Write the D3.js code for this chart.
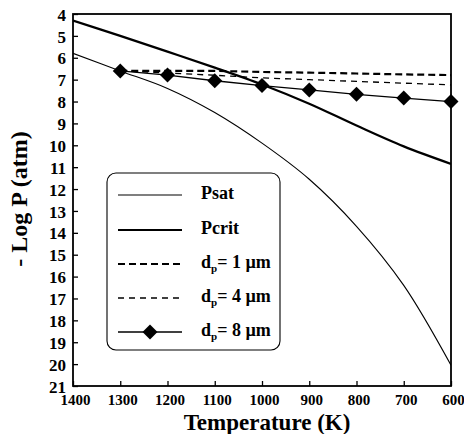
<!DOCTYPE html>
<html>
<head>
<meta charset="utf-8">
<script src="https://cdn.jsdelivr.net/npm/d3@7"></script>
<style>
  html, body { margin: 0; padding: 0; background: #fff; }
  svg { display: block; }
</style>
</head>
<body>
<svg id="chart" width="464" height="434"></svg>
<script>
// Temperature grid (K)
const temps = [1400, 1300, 1200, 1100, 1000, 900, 800, 700, 600];
// -log P (atm) for saturation and critical pressure
const psat  = [5.8, 6.6, 7.4, 8.5, 9.9, 11.55, 13.7, 16.4, 20.05];
const pcrit = [4.3, 5.0, 5.72, 6.45, 7.22, 8.1, 9.1, 10.05, 10.85];
// particle-size series start at 1300 K
const dpTemps = [1300, 1200, 1100, 1000, 900, 800, 700, 600];
const dp1 = [6.6, 6.6, 6.6, 6.65, 6.68, 6.72, 6.76, 6.79];
const dp4 = [6.6, 6.7, 6.8, 6.92, 7.0, 7.08, 7.16, 7.24];
const dp8 = [6.6, 6.79, 7.05, 7.27, 7.47, 7.67, 7.84, 8.0];
// axis ticks
const xTicks = [1400, 1300, 1200, 1100, 1000, 900, 800, 700, 600];
const yTicks = [4, 5, 6, 7, 8, 9, 10, 11, 12, 13, 14, 15, 16, 17, 18, 19, 20, 21];
const legendLabels = ["Psat", "Pcrit", "1", "4", "8"];

const FONT = "'Liberation Serif', 'Times New Roman', Times, 'DejaVu Serif', serif";

const svg = d3.select("#chart");
const L = 73, R = 451, T = 14, B = 386;

const x = d3.scaleLinear().domain([1400, 600]).range([L, R]);
const y = d3.scaleLinear().domain([4, 21]).range([T, B]);

// clip to plot area
svg.append("defs").append("clipPath").attr("id", "plotclip")
  .append("rect").attr("x", L).attr("y", T).attr("width", R - L).attr("height", B - T);

// axes with inward ticks
const yAxis = svg.append("g").attr("transform", `translate(${L},0)`)
  .call(d3.axisLeft(y).tickValues(yTicks).tickSize(-5).tickPadding(7).tickFormat(d3.format("d")));
yAxis.select(".domain").remove();
yAxis.attr("font-family", null).attr("font-size", null);
yAxis.selectAll("line").attr("stroke", "#000").attr("stroke-width", 1.3);
yAxis.selectAll("text").style("font-family", FONT).style("font-weight", "bold")
  .style("font-size", "17px").attr("fill", "#000").attr("dy", "0.36em");

const xAxis = svg.append("g").attr("transform", `translate(0,${B})`)
  .call(d3.axisBottom(x).tickValues(xTicks).tickSize(-5).tickPadding(8).tickFormat(d3.format("d")));
xAxis.select(".domain").remove();
xAxis.attr("font-family", null).attr("font-size", null);
xAxis.selectAll("line").attr("stroke", "#000").attr("stroke-width", 1.3);
xAxis.selectAll("text").style("font-family", FONT).style("font-weight", "bold")
  .style("font-size", "15px").attr("fill", "#000").attr("dx", "2");

// frame
svg.append("rect").attr("x", L).attr("y", T).attr("width", R - L).attr("height", B - T)
  .attr("fill", "none").attr("stroke", "#000").attr("stroke-width", 1.8);

const plot = svg.append("g").attr("clip-path", "url(#plotclip)");

const smooth = d3.line().x(d => x(d[0])).y(d => y(d[1])).curve(d3.curveCatmullRom.alpha(0.5));
const straight = d3.line().x(d => x(d[0])).y(d => y(d[1]));

plot.append("path").attr("d", smooth(d3.zip(temps, psat)))
  .attr("fill", "none").attr("stroke", "#000").attr("stroke-width", 1.1);
plot.append("path").attr("d", smooth(d3.zip(temps, pcrit)))
  .attr("fill", "none").attr("stroke", "#000").attr("stroke-width", 2.2);
plot.append("path").attr("d", straight(d3.zip(dpTemps, dp1)))
  .attr("fill", "none").attr("stroke", "#000").attr("stroke-width", 2.2).attr("stroke-dasharray", "7,4");
plot.append("path").attr("d", straight(d3.zip(dpTemps, dp4)))
  .attr("fill", "none").attr("stroke", "#000").attr("stroke-width", 1.3).attr("stroke-dasharray", "6,5");
plot.append("path").attr("d", straight(d3.zip(dpTemps, dp8)))
  .attr("fill", "none").attr("stroke", "#000").attr("stroke-width", 1.3);

const diamond = d3.symbol().type(d3.symbolSquare).size(112);
svg.append("g").selectAll("path").data(d3.zip(dpTemps, dp8)).join("path")
  .attr("d", diamond)
  .attr("transform", d => `translate(${x(d[0])},${y(d[1])}) rotate(45)`)
  .attr("fill", "#000");

function label(sel, size) {
  return sel.style("font-family", FONT).style("font-weight", "bold")
    .style("font-size", size).attr("fill", "#000");
}

// axis titles
label(svg.append("text"), "23px").attr("x", 267).attr("y", 430).attr("text-anchor", "middle")
  .text("Temperature (K)");
label(svg.append("text"), "24px").attr("transform", "translate(27,199) rotate(-90)")
  .attr("text-anchor", "middle").text("- Log P (atm)");

// legend
const lg = svg.append("g");
lg.append("rect").attr("x", 107).attr("y", 173).attr("width", 173).attr("height", 177)
  .attr("rx", 9).attr("fill", "#fff").attr("stroke", "#000").attr("stroke-width", 1.1);
const rowY = [195, 230, 264, 298, 332];
const styles = [
  { w: 1.1, dash: null },
  { w: 2.2, dash: null },
  { w: 2.2, dash: "7,4" },
  { w: 1.3, dash: "6,5" },
  { w: 1.3, dash: null }
];
rowY.forEach((ry, i) => {
  lg.append("line").attr("x1", 118).attr("x2", 182).attr("y1", ry).attr("y2", ry)
    .attr("stroke", "#000").attr("stroke-width", styles[i].w)
    .attr("stroke-dasharray", styles[i].dash);
  const t = label(lg.append("text"), "18px").attr("x", 201).attr("y", ry + 4);
  if (i < 2) {
    t.text(legendLabels[i]);
  } else {
    t.append("tspan").text("d");
    t.append("tspan").attr("dy", 4).style("font-size", "11px").text("p");
    t.append("tspan").attr("dy", -4).text("= " + legendLabels[i] + " \u00b5m");
  }
});
lg.append("path").attr("d", diamond)
  .attr("transform", `translate(150,${rowY[4]}) rotate(45)`).attr("fill", "#000");
</script>
</body>
</html>
